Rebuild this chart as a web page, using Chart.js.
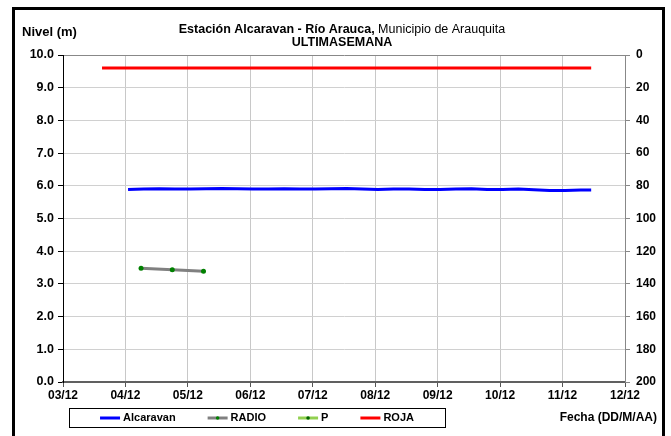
<!DOCTYPE html>
<html>
<head>
<meta charset="utf-8">
<script src="https://cdn.jsdelivr.net/npm/chart.js@4"></script>
<style>
html, body { margin: 0; padding: 0; background: #fff; }
#wrap { width: 671px; height: 436px; position: relative; }
</style>
</head>
<body>
<div id="wrap"><canvas id="nivel" width="671" height="436"></canvas></div>
<script>
/* DATOS */

const dayLabels = ['03/12','04/12','05/12','06/12','07/12','08/12','09/12','10/12','11/12','12/12'];

const alcaravanFechas = [
'04/12 01:00','04/12 07:00','04/12 13:00','04/12 19:00',
'05/12 01:00','05/12 07:00','05/12 13:00','05/12 19:00',
'06/12 01:00','06/12 07:00','06/12 13:00','06/12 19:00',
'07/12 01:00','07/12 07:00','07/12 13:00','07/12 19:00',
'08/12 01:00','08/12 07:00','08/12 13:00','08/12 19:00',
'09/12 01:00','09/12 07:00','09/12 13:00','09/12 19:00',
'10/12 01:00','10/12 07:00','10/12 13:00','10/12 19:00',
'11/12 01:00','11/12 07:00','11/12 11:00'
];
const alcaravanNivel = [
5.89,5.90,5.91,5.90,
5.90,5.91,5.92,5.91,
5.90,5.90,5.91,5.90,
5.90,5.91,5.92,5.90,
5.89,5.90,5.90,5.89,
5.89,5.90,5.91,5.89,
5.89,5.90,5.88,5.86,
5.86,5.87,5.87
];

const radioFechas = ['04/12 06:00','04/12 18:00','05/12 06:00'];
const radioNivel = [3.48,3.43,3.39];

const pFechas = [];
const pNivel = [];

const rojaFechas = ['03/12 15:00','11/12 11:00'];
const rojaNivel = [9.6,9.6];

const nivelTicks = [0,1,2,3,4,5,6,7,8,9,10];
const derechaTicks = [0,20,40,60,80,100,120,140,160,180,200];

/* fecha 'DD/12 HH:MM' -> dias desde 03/12 */
function dia(s){
  const d = parseInt(s.substr(0,2),10);
  const h = parseInt(s.substr(6,2),10);
  const m = parseInt(s.substr(9,2),10);
  return d - 3 + h/24 + m/1440;
}
function puntos(fechas, valores){
  return fechas.map((f,i) => ({x: dia(f), y: valores[i]}));
}

const FONT = '"Liberation Sans", Arial, sans-serif';

/* TITULOS, LEYENDA Y MARCO */
const extras = {
  id: 'extras',
  afterDraw(chart){
    const c = chart.ctx;
    c.save();
    c.fillStyle = '#000';
    c.textBaseline = 'middle';

    // titulo
    const t1 = 'Estación Alcaravan - Río Arauca,';
    const t2 = ' Municipio de Arauquita';
    c.font = 'bold 12.5px ' + FONT;
    const w1 = c.measureText(t1).width;
    c.font = '12.5px ' + FONT;
    const w2 = c.measureText(t2).width;
    let x0 = 342 - (w1 + w2)/2;
    c.textAlign = 'left';
    c.font = 'bold 12.5px ' + FONT;
    c.fillText(t1, x0, 30);
    c.font = '12.5px ' + FONT;
    c.fillText(t2, x0 + w1, 30);
    c.font = 'bold 12.5px ' + FONT;
    c.textAlign = 'center';
    c.fillText('ULTIMASEMANA', 342, 43);

    c.textAlign = 'left';
    c.font = 'bold 13px ' + FONT;
    c.fillText('Nivel (m)', 22, 32);

    c.font = 'bold 12px ' + FONT;
    c.textAlign = 'right';
    c.fillText('Fecha (DD/M/AA)', 657, 418);

    // leyenda
    const bx = 69, by = 408, bw = 376, bh = 19;
    c.strokeStyle = '#000';
    c.lineWidth = 1;
    c.strokeRect(bx + 0.5, by + 0.5, bw, bh);
    c.font = 'bold 11px ' + FONT;
    const items = chart.data.datasets;
    const pad = 32, sw = 20, gap = 3;
    let total = 0;
    items.forEach((d,i) => {
      total += sw + gap + c.measureText(d.label).width;
      if (i < items.length - 1) total += pad;
    });
    let x = bx + bw/2 - total/2;
    const ym = by + bh/2 + 0.5;
    c.textAlign = 'left';
    items.forEach(d => {
      c.strokeStyle = d.borderColor;
      c.lineWidth = 3;
      c.beginPath();
      c.moveTo(x, ym);
      c.lineTo(x + sw, ym);
      c.stroke();
      if (d.pointRadius > 0 || d.label === 'P') {
        c.fillStyle = d.pointBackgroundColor;
        c.beginPath();
        c.arc(x + sw/2, ym, 1.8, 0, Math.PI*2);
        c.fill();
      }
      c.fillStyle = '#000';
      c.fillText(d.label, x + sw + gap, ym);
      x += sw + gap + c.measureText(d.label).width + pad;
    });

    // marco
    c.strokeStyle = '#000';
    c.lineWidth = 3;
    c.strokeRect(13.5, 8.5, 650, 440);
    c.restore();
  }
};

const fondo = {
  id: 'fondo',
  beforeDraw(chart){
    const c = chart.ctx;
    c.save();
    c.fillStyle = '#fff';
    c.fillRect(0, 0, chart.width, chart.height);
    c.restore();
  }
};

/* GRAFICA NIVEL */

const ctx1 = document.getElementById('nivel');

new Chart(ctx1, {
  type: 'line',
  data: {
    datasets: [
      {
        label: 'Alcaravan',
        data: puntos(alcaravanFechas, alcaravanNivel),
        borderColor: '#0000ff',
        borderWidth: 3,
        pointRadius: 0,
        tension: 0,
        yAxisID: 'y'
      },
      {
        label: 'RADIO',
        data: puntos(radioFechas, radioNivel),
        borderColor: '#808080',
        borderWidth: 3,
        pointRadius: 2.5,
        pointBorderWidth: 0,
        pointBackgroundColor: '#008000',
        yAxisID: 'y'
      },
      {
        label: 'P',
        data: puntos(pFechas, pNivel),
        borderColor: '#92d050',
        borderWidth: 3,
        pointRadius: 0,
        pointBackgroundColor: '#006400',
        yAxisID: 'y'
      },
      {
        label: 'ROJA',
        data: puntos(rojaFechas, rojaNivel),
        borderColor: '#ff0000',
        borderWidth: 3,
        pointRadius: 0,
        yAxisID: 'y'
      }
    ]
  },
  options: {
    responsive: false,
    animation: false,
    layout: { padding: { top: 55, left: 0, right: 0, bottom: 0 } },
    plugins: { legend: { display: false }, tooltip: { enabled: false } },
    scales: {
      x: {
        type: 'linear',
        min: 0,
        max: 9,
        afterFit(s){ s.height = 54; },
        afterBuildTicks(s){ s.ticks = dayLabels.map((l,i) => ({value: i})); },
        ticks: {
          callback: (v) => dayLabels[v],
          color: '#000',
          font: { family: FONT, size: 12, weight: 'bold' },
          padding: 1,
          maxRotation: 0,
          autoSkip: false
        },
        grid: { color: '#c8c8c8', tickLength: 5, tickColor: '#555' },
        border: { color: '#606060', width: 2 }
      },
      y: {
        position: 'left',
        min: 0,
        max: 10,
        afterFit(s){ s.width = 63; },
        afterBuildTicks(s){ s.ticks = nivelTicks.map(v => ({value: v})); },
        ticks: {
          callback: (v) => v.toFixed(1),
          color: '#000',
          font: { family: FONT, size: 12.5, weight: 'bold' },
          padding: 4
        },
        grid: {
          color: (c) => c.tick && c.tick.value === 10 ? '#888' : '#d0d0d0',
          tickLength: 5,
          tickColor: '#000'
        },
        border: { color: '#000', width: 1 }
      },
      y2: {
        position: 'right',
        min: 0,
        max: 200,
        reverse: true,
        afterFit(s){ s.width = 46; },
        afterBuildTicks(s){ s.ticks = derechaTicks.map(v => ({value: v})); },
        ticks: {
          color: '#000',
          font: { family: FONT, size: 12, weight: 'bold' },
          padding: 6
        },
        grid: { drawOnChartArea: false, tickLength: 5, tickColor: '#888' },
        border: { color: '#888', width: 1 }
      }
    }
  },
  plugins: [fondo, extras]
});
</script>
</body>
</html>
